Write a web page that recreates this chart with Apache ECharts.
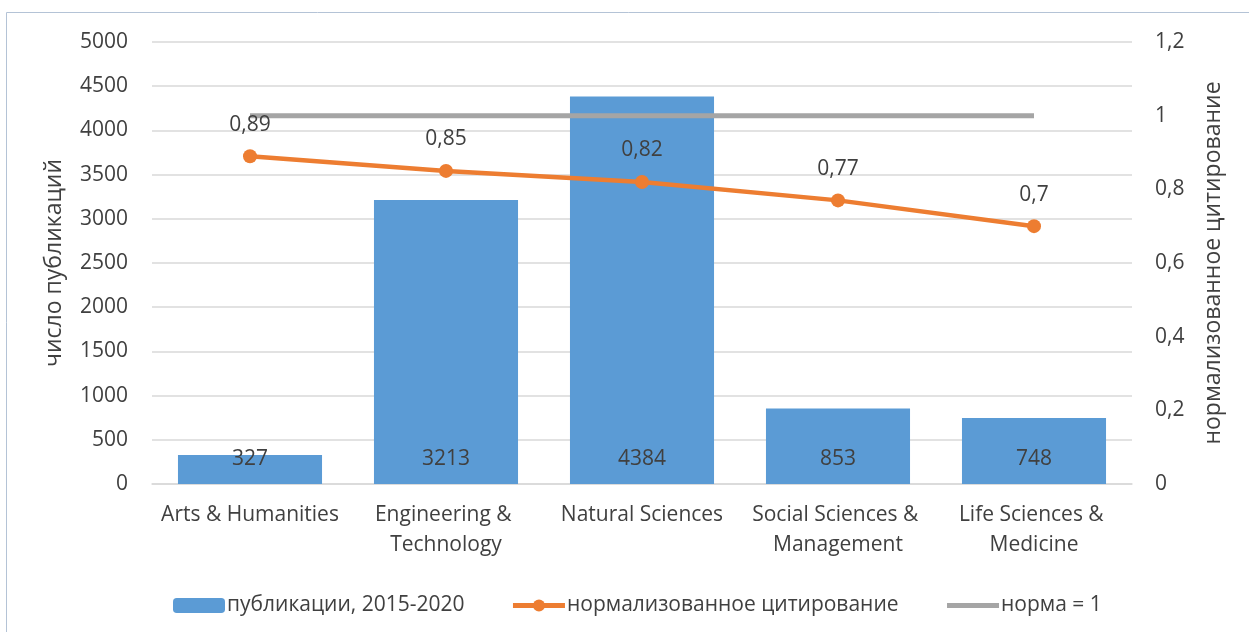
<!DOCTYPE html>
<html>
<head>
<meta charset="utf-8">
<script src="https://cdn.jsdelivr.net/npm/echarts@6/dist/echarts.min.js"></script>
<style>
  html, body { margin: 0; padding: 0; background: #fff; }
  #chart { width: 1249px; height: 632px; }
</style>
</head>
<body>
<div id="chart"></div>
<script>
// данные
const categories = ['Arts & Humanities', 'Engineering & Technology', 'Natural Sciences', 'Social Sciences & Management', 'Life Sciences & Medicine']
const publications = [327, 3213, 4384, 853, 748]
const citation = [0.89, 0.85, 0.82, 0.77, 0.7]
const norm = [1, 1, 1, 1, 1]

const font = '"Open Sans", sans-serif'
const textColor = '#404040'
const comma = v => String(v).replace('.', ',')

let chart = echarts.init(document.getElementById('chart'))

let option = {
  textStyle: { fontFamily: font, color: textColor },
  graphic: [{
    type: 'rect',
    shape: { x: 6.5, y: 12.5, width: 1400, height: 800 },
    style: { fill: 'none', stroke: '#b4c3d6', lineWidth: 1 },
    silent: true
  }],
  grid: { left: 152, right: 117, top: 42, bottom: 148 },
  legend: {
    left: 168,
    top: 590,
    itemGap: 46,
    itemWidth: 52,
    itemHeight: 15,
    textStyle: { fontFamily: font, fontSize: 21, color: textColor, padding: [0, 0, 0, -3] },
    data: [
      { name: 'публикации, 2015-2020' },
      { name: 'нормализованное цитирование', lineStyle: { width: 5 } },
      { name: 'норма = 1', lineStyle: { width: 5 }, itemStyle: { color: 'rgba(0,0,0,0)', borderWidth: 0 } }
    ]
  },
  xAxis: {
    type: 'category',
    data: categories,
    axisTick: { show: false },
    axisLine: { lineStyle: { color: '#d9d9d9', width: 1.5 } },
    axisLabel: {
      fontFamily: font, fontSize: 21, color: textColor,
      margin: 16, lineHeight: 30,
      width: 195, overflow: 'break', interval: 0
    }
  },
  yAxis: [
    {
      type: 'value',
      min: 0, max: 5000, interval: 500,
      name: 'число публикаций',
      nameLocation: 'middle',
      nameRotate: 90,
      nameGap: 86,
      nameMoveOverlap: false,
      nameTextStyle: { fontFamily: font, fontSize: 23, color: textColor },
      axisLabel: { fontFamily: font, fontSize: 21, color: textColor, margin: 24, formatter: v => String(v) },
      splitLine: { lineStyle: { color: '#d9d9d9', width: 1.5 } }
    },
    {
      type: 'value',
      min: 0, max: 1.2, interval: 0.2,
      name: 'нормализованное цитирование',
      nameLocation: 'middle',
      nameRotate: 90,
      nameGap: 70,
      nameMoveOverlap: false,
      nameTextStyle: { fontFamily: font, fontSize: 23, color: textColor },
      axisLabel: {
        fontFamily: font, fontSize: 21, color: textColor, margin: 23,
        formatter: v => comma(Math.round(v * 10) / 10)
      },
      splitLine: { show: false }
    }
  ],
  series: [
    {
      name: 'публикации, 2015-2020',
      type: 'bar',
      data: publications,
      barCategoryGap: '26.5%',
      itemStyle: { color: '#5b9bd5' },
      label: {
        show: true, position: 'insideBottom', distance: 14,
        fontFamily: font, fontSize: 21, color: textColor
      },
      z: 2
    },
    {
      name: 'нормализованное цитирование',
      type: 'line',
      yAxisIndex: 1,
      data: citation,
      symbol: 'circle',
      symbolSize: 14,
      lineStyle: { color: '#ed7d31', width: 4.5 },
      itemStyle: { color: '#ed7d31' },
      label: {
        show: true, position: 'top', distance: 14,
        fontFamily: font, fontSize: 21, color: textColor,
        formatter: p => comma(p.value)
      },
      z: 4
    },
    {
      name: 'норма = 1',
      type: 'line',
      yAxisIndex: 1,
      data: norm,
      symbol: 'none',
      lineStyle: { color: '#a5a5a5', width: 5 },
      itemStyle: { color: '#a5a5a5' },
      z: 3
    }
  ]
}

chart.setOption(option)
</script>
</body>
</html>
